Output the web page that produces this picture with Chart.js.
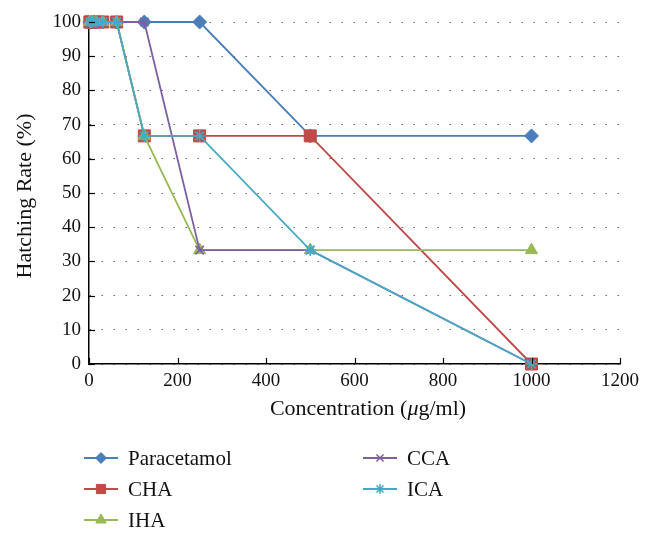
<!DOCTYPE html>
<html>
<head>
<meta charset="utf-8">
<script src="https://cdn.jsdelivr.net/npm/chart.js@4"></script>
<style>
html, body { margin: 0; padding: 0; background: #fff; }
#wrap { width: 658px; height: 539px; }
</style>
</head>
<body>
<div id="wrap"><canvas id="chart"></canvas></div>
<script>
let concentrations = [1.95, 3.9, 7.8, 15.6, 31.25, 62.5, 125, 250, 500, 1000];
let paracetamol = [100, 100, 100, 100, 100, 100, 100, 100, 66.7, 66.7];
let cha = [100, 100, 100, 100, 100, 100, 66.7, 66.7, 66.7, 0];
let iha = [100, 100, 100, 100, 100, 100, 66.7, 33.3, 33.3, 33.3];
let cca = [100, 100, 100, 100, 100, 100, 100, 33.3, 33.3, 0];
let ica = [100, 100, 100, 100, 100, 100, 66.7, 66.7, 33.3, 0];
let seriesNames = ['Paracetamol', 'CHA', 'IHA', 'CCA', 'ICA'];
let seriesColors = ['#4a7ebb', '#be4b48', '#98b954', '#7d60a0', '#46aac5'];
let seriesMarkers = ['rectRot', 'rect', 'triangle', 'crossRot', 'star'];
let markerSizes = [7, 8.5, 7, 6, 6];
let legendMarkerSizes = [5.5, 6.5, 6, 5, 5];

const FONT = '"Liberation Serif", "DejaVu Serif", serif';

function toPoints(values) {
    return values.map((v, i) => ({ x: concentrations[i], y: v }));
}

let allValues = [paracetamol, cha, iha, cca, ica];
let datasets = allValues.map((values, i) => ({
    label: seriesNames[i],
    data: toPoints(values),
    borderColor: seriesColors[i],
    backgroundColor: seriesColors[i],
    pointStyle: seriesMarkers[i],
    pointRadius: markerSizes[i],
    pointBorderWidth: seriesMarkers[i] === 'crossRot' || seriesMarkers[i] === 'star' ? 1.5 : 1,
    borderWidth: 1.8,
    order: 5 - i,
    clip: false,
    tension: 0
}));

// inward tick marks, axis titles and the two-column legend
const extras = {
    id: 'extras',
    afterDraw(chart) {
        let ctx = chart.ctx;
        let xs = chart.scales.x;
        let ys = chart.scales.y;
        ctx.save();
        ctx.strokeStyle = '#000';
        ctx.lineWidth = 1.2;
        xs.ticks.forEach(t => {
            let px = Math.round(xs.getPixelForValue(t.value)) + 0.5;
            ctx.beginPath();
            ctx.moveTo(px, ys.bottom);
            ctx.lineTo(px, ys.bottom - 6);
            ctx.stroke();
        });
        ys.ticks.forEach(t => {
            let py = Math.round(ys.getPixelForValue(t.value)) + 0.5;
            ctx.beginPath();
            ctx.moveTo(xs.left, py);
            ctx.lineTo(xs.left + 6, py);
            ctx.stroke();
        });

        // x title with italic mu
        ctx.fillStyle = '#111';
        ctx.textBaseline = 'middle';
        let parts = [['Concentration (', ''], ['μ', 'italic '], ['g/ml)', '']];
        let total = 0;
        parts.forEach(p => { ctx.font = p[1] + '22px ' + FONT; total += ctx.measureText(p[0]).width; });
        let tx = 368 - total / 2;
        ctx.textAlign = 'left';
        parts.forEach(p => {
            ctx.font = p[1] + '22px ' + FONT;
            ctx.fillText(p[0], tx, 409);
            tx += ctx.measureText(p[0]).width;
        });

        // y title
        ctx.save();
        ctx.translate(25, 196);
        ctx.rotate(-Math.PI / 2);
        ctx.textAlign = 'center';
        ctx.font = '22px ' + FONT;
        ctx.fillText('Hatching Rate (%)', 0, 0);
        ctx.restore();

        let legendSpots = [
            [84, 458], [84, 489], [84, 520],
            [363, 458], [363, 489]
        ];
        chart.data.datasets.forEach((ds, i) => {
            let [lx, ly] = legendSpots[i];
            ctx.strokeStyle = ds.borderColor;
            ctx.lineWidth = 1.8;
            ctx.beginPath();
            ctx.moveTo(lx, ly);
            ctx.lineTo(lx + 34, ly);
            ctx.stroke();
            ctx.fillStyle = ds.backgroundColor;
            ctx.lineWidth = ds.pointBorderWidth;
            Chart.helpers.drawPoint(ctx, {
                pointStyle: ds.pointStyle,
                radius: legendMarkerSizes[i],
                rotation: 0,
                borderWidth: ds.pointBorderWidth
            }, lx + 17, ly);
            ctx.fillStyle = '#111';
            ctx.font = '21px ' + FONT;
            ctx.textBaseline = 'middle';
            ctx.textAlign = 'left';
            ctx.fillText(ds.label, lx + 44, ly + 1);
        });
        ctx.restore();
    }
};

new Chart(document.getElementById('chart'), {
    type: 'line',
    data: { datasets: datasets },
    options: {
        responsive: true,
        maintainAspectRatio: false,
        animation: false,
        layout: { padding: { left: 0, right: 38, top: 22, bottom: 115 } },
        plugins: {
            legend: { display: false },
            tooltip: { enabled: false }
        },
        scales: {
            x: {
                type: 'linear',
                min: 0,
                max: 1200,
                ticks: {
                    stepSize: 200,
                    color: '#111',
                    font: { family: FONT, size: 19 },
                    padding: 6,
                    maxRotation: 0,
                    callback: v => String(v)
                },
                grid: { display: false, drawTicks: false },
                border: { display: true, color: '#000', width: 1.5 },
                afterFit(scale) { scale.height = 60; }
            },
            y: {
                min: 0,
                max: 100,
                ticks: {
                    stepSize: 10,
                    color: '#111',
                    font: { family: FONT, size: 19 },
                    padding: 8,
                    callback: v => String(v)
                },
                grid: {
                    color: '#666',
                    lineWidth: 1,
                    drawTicks: false
                },
                border: { display: true, color: '#000', width: 1.5, dash: [1.5, 10.5] },
                afterFit(scale) { scale.width = 89; }
            }
        }
    },
    plugins: [extras]
});
</script>
</body>
</html>
